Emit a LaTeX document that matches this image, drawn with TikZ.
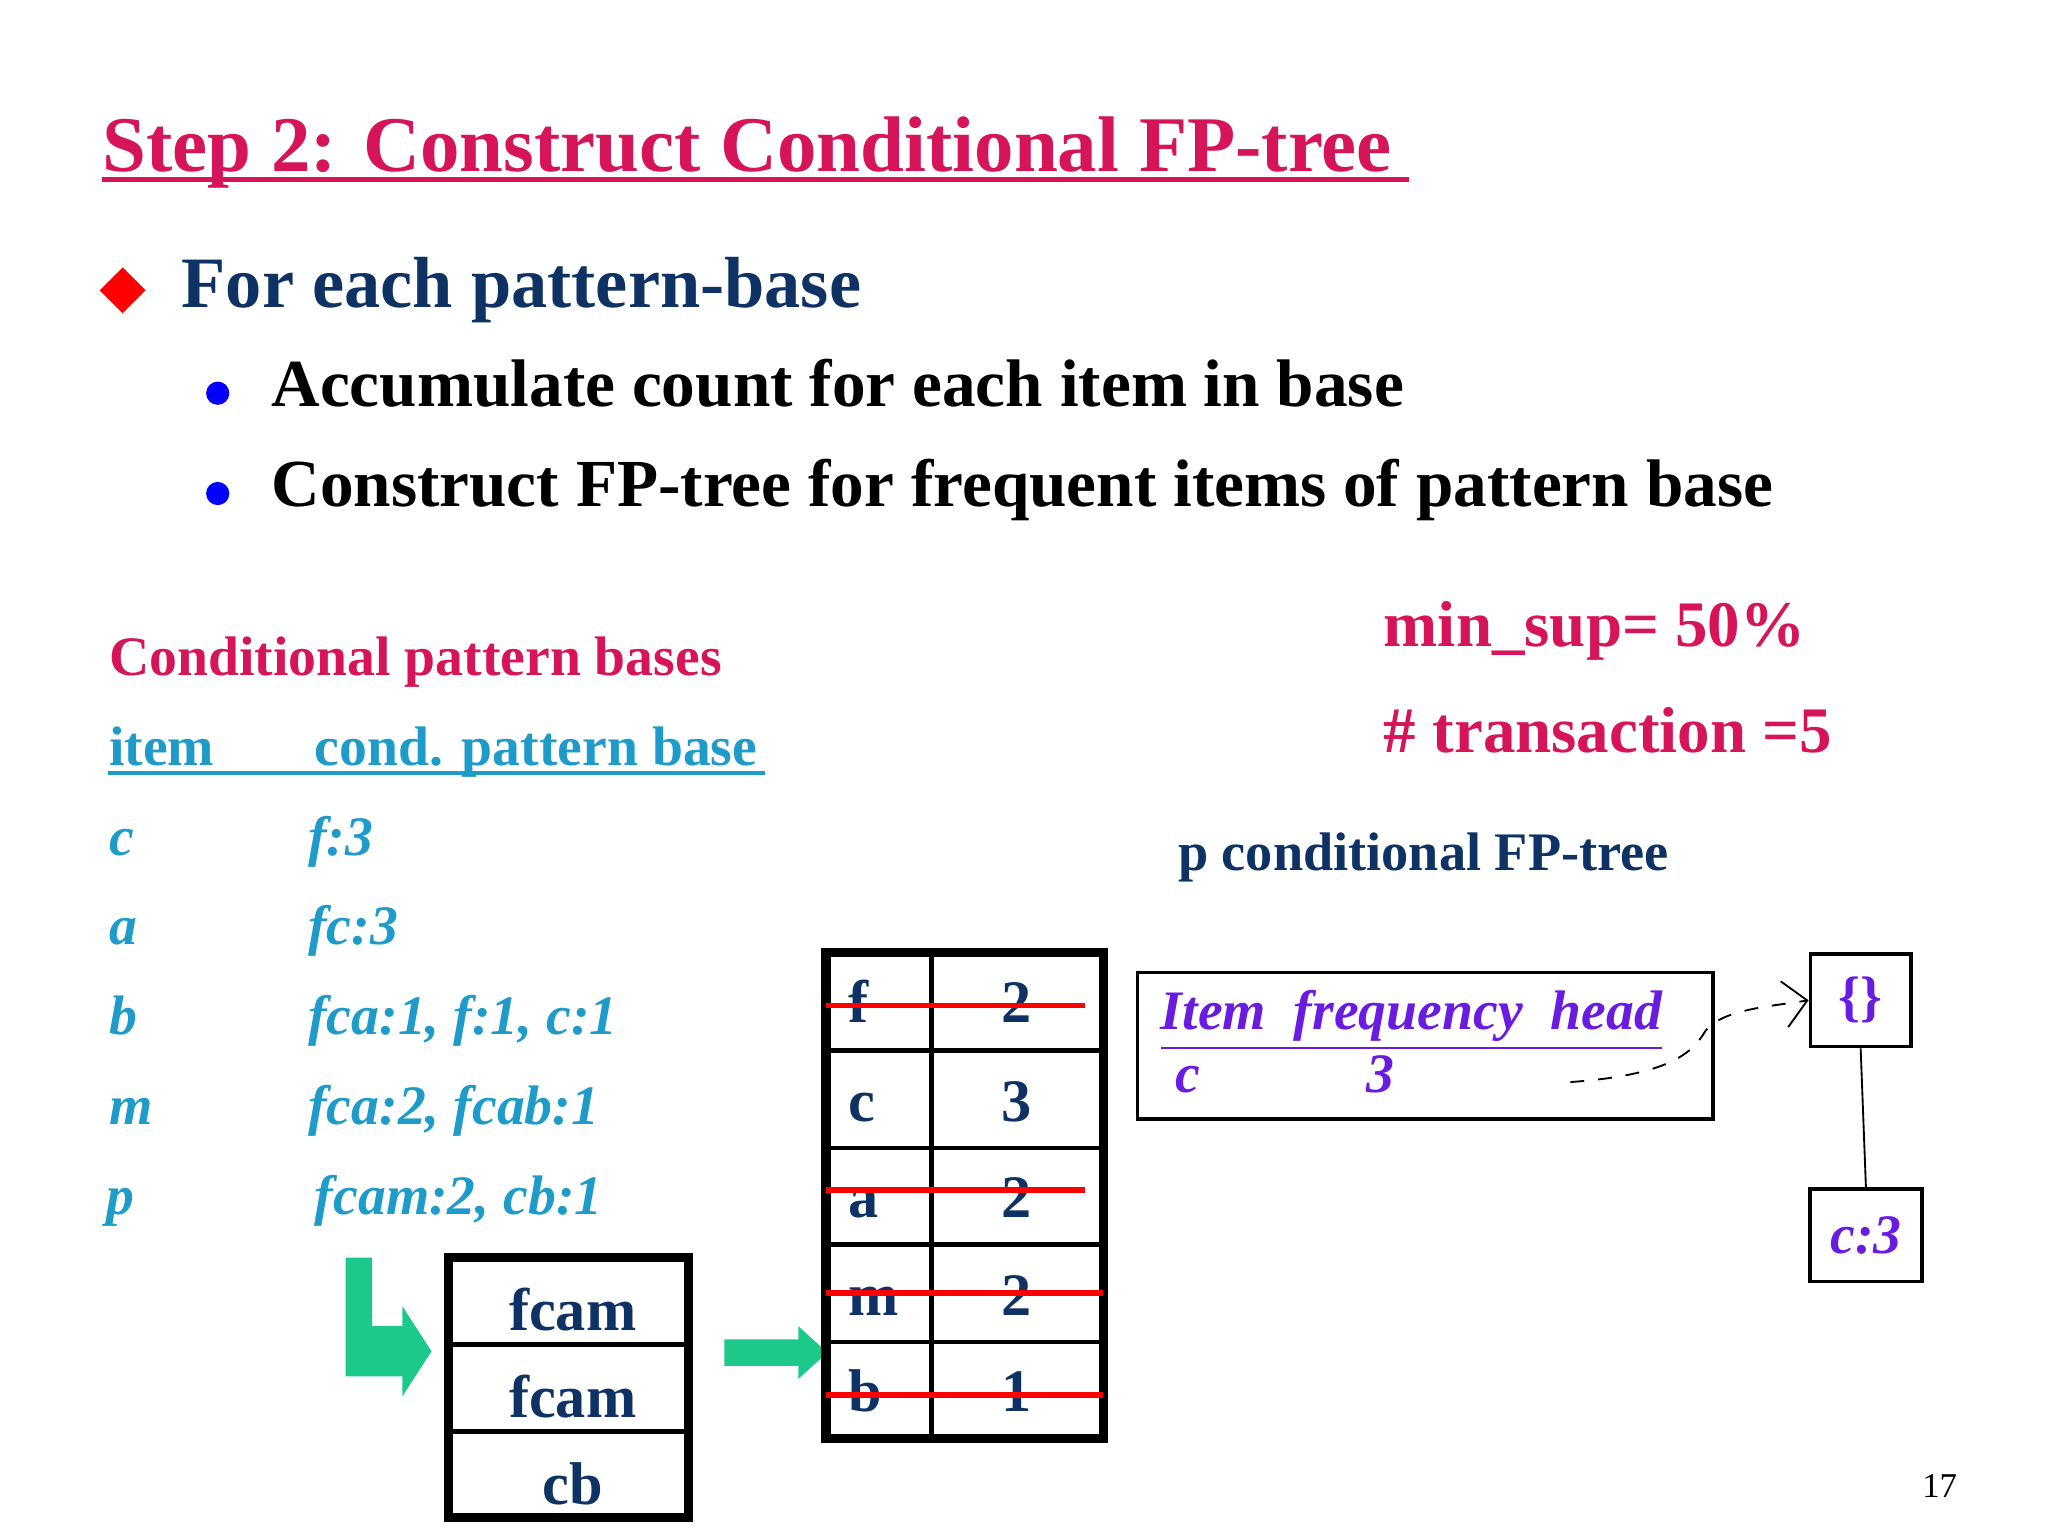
\documentclass[tikz,border=0pt]{standalone}
\usepackage{fontspec}
\setmainfont{Liberation Serif}
\usetikzlibrary{arrows.meta}
\definecolor{ttl}{HTML}{D6145A}
\definecolor{hd}{HTML}{0F3264}
\definecolor{cy}{HTML}{1E9BC8}
\definecolor{pu}{HTML}{6A1BE0}
\definecolor{gr}{HTML}{1DC98A}
\tikzset{t/.style={anchor=base west,inner sep=0pt},
 cell/.style={anchor=base,inner sep=0pt,font=\fontsize{13}{15}\selectfont\bfseries,text=hd},
 strike/.style={red,line width=1.2pt},
 box/.style={draw,line width=0.8pt}}
\begin{document}
\begin{tikzpicture}[x=0.01cm,y=-0.01cm]
\useasboundingbox (0,0) rectangle (1552,1164);
\node[t,text=ttl,font=\fontsize{17}{20}\selectfont\bfseries] (title) at (77,130) {Step 2: Construct Conditional FP-tree};
\draw[ttl,line width=1pt] (title.base west) ++(0,6) -- ++(991,0);
\node[fill=red,rotate=45,minimum size=7pt,inner sep=0pt] (dia) at (93,220) {};
\node[t,text=hd,font=\fontsize{15.6}{18}\selectfont\bfseries] (l1) at (137,233) {For each pattern-base};
\node[circle,fill=blue,minimum size=5pt,inner sep=0pt] (d1) at (165,298) {};
\node[t,font=\fontsize{14.5}{17}\selectfont\bfseries] (l2) at (205,308) {Accumulate count for each item in base};
\node[circle,fill=blue,minimum size=5pt,inner sep=0pt] (d2) at (165,374) {};
\node[t,font=\fontsize{14.5}{17}\selectfont\bfseries] (l3) at (205,384) {Construct FP-tree for frequent items of pattern base};
\node[t,text=ttl,font=\fontsize{12}{14}\selectfont\bfseries] (cpb) at (82,512) {Conditional pattern bases};
\begin{scope}[every node/.style={t,text=cy,font=\fontsize{12}{14}\selectfont\bfseries}]
\node (ih) at (82,580) {item};
\node (ph) at (238,580) {cond. pattern base};
\draw[cy,line width=0.8pt] (82,586) -- (580,586);
\end{scope}
\begin{scope}[every node/.style={t,text=cy,font=\fontsize{12}{14}\selectfont\bfseries\itshape}]
\node (i1) at (82,648) {c}; \node (b1) at (233,648) {f:3};
\node (i2) at (82,716) {a}; \node (b2) at (233,716) {fc:3};
\node (i3) at (82,784) {b}; \node (b3) at (233,784) {fca:1, f:1, c:1};
\node (i4) at (82,852) {m}; \node (b4) at (233,852) {fca:2, fcab:1};
\node (i5) at (80,920) {p}; \node (b5) at (238,920) {fcam:2, cb:1};
\end{scope}
\node[t,text=ttl,font=\fontsize{14}{17}\selectfont\bfseries] (ms) at (1048,490) {min\_sup= 50\%};
\node[t,text=ttl,font=\fontsize{14}{17}\selectfont\bfseries] (tr) at (1048,570) {\# transaction =5};
\node[t,text=hd,font=\fontsize{11.7}{14}\selectfont\bfseries] (pc) at (892,660) {p conditional FP-tree};
% green arrows
\fill[gr] (262,953) -- (282,953) -- (282,1005) -- (305,1005) -- (305,990) -- (327,1024) -- (305,1058) -- (305,1043) -- (262,1043) -- cycle;
\fill[gr] (549,1015) -- (605,1015) -- (605,1005) -- (627,1025) -- (605,1045) -- (605,1035) -- (549,1035) -- cycle;
% fcam table
\draw[line width=2pt] (340,953) rectangle (522,1150);
\draw[line width=1pt] (340,1019) -- (522,1019) (340,1085) -- (522,1085);
\node[cell] (r1) at (434,1008) {fcam};
\node[cell] (r2) at (434,1074) {fcam};
\node[cell] (r3) at (434,1140) {cb};
% count table
\draw[line width=2pt] (626,722) rectangle (836,1090);
\draw[line width=1pt] (706,722) -- (706,1090);
\foreach \y in {796,870,943,1017} \draw[line width=1pt] (626,\y) -- (836,\y);
\foreach \l/\c/\y [count=\i] in {f/2/775,c/3/850,a/2/923,m/2/997,b/1/1070}{
 \node[cell,anchor=base west] (k\i) at (642,\y) {\l};
 \node[cell] (v\i) at (770,\y) {\c};}
\draw[strike] (626,762) -- (822,762);
\draw[strike] (626,902) -- (822,902);
\draw[strike] (626,980) -- (836,980);
\draw[strike] (626,1057) -- (836,1057);
% header table
\draw[line width=0.8pt] (862,737) rectangle (1298,848);
\begin{scope}[every node/.style={t,text=pu,font=\fontsize{12}{14}\selectfont\bfseries\itshape}]
\node (ifh) at (879,780) {\underline{Item\ \ frequency\ \ head}};
\node (hc) at (890,828) {c};
\node (h3) at (1035,828) {3};
\end{scope}
\node[box,inner sep=0pt,minimum width=0.76cm,minimum height=0.70cm,text=pu,font=\fontsize{12}{14}\selectfont\bfseries] (root) at (1410,758) {\{\}};
\node[box,inner sep=0pt,minimum width=0.85cm,minimum height=0.70cm,text=pu,font=\fontsize{12}{14}\selectfont\bfseries\itshape] (c3) at (1414,936) {c:3};
\draw (root.south) -- (c3.north);
\coordinate (ds) at (1190,820);
\draw[dashed,-{Straight Barb[length=5pt]}] (ds) .. controls (1260,815) and (1280,800) .. (1290,785) .. controls (1300,765) and (1340,763) .. (root.west);
\node[t,font=\fontsize{7.5}{9}\selectfont] (pg) at (1456,1135) {17};
\end{tikzpicture}
\end{document}
